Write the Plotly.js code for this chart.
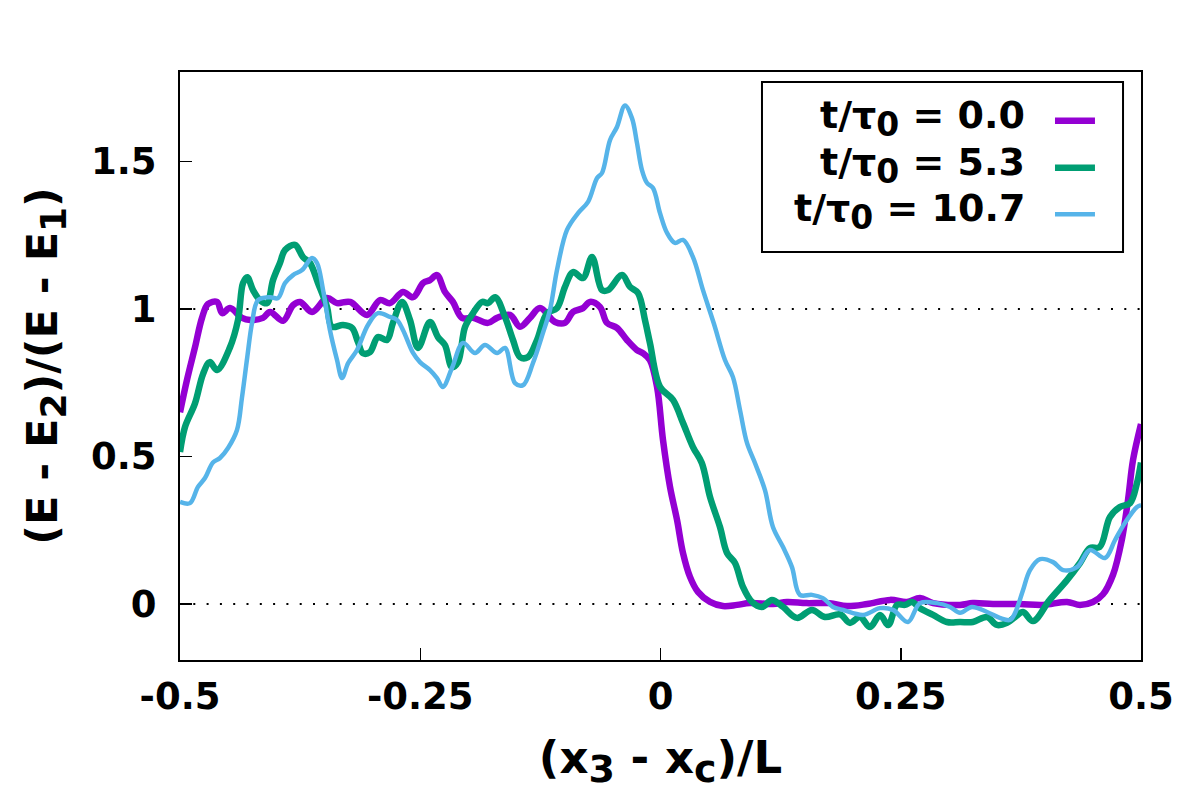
<!DOCTYPE html>
<html>
<head>
<meta charset="utf-8">
<script src="https://cdn.plot.ly/plotly-3.0.1.min.js"></script>
<style>
  html, body { margin: 0; padding: 0; background: #ffffff; }
  #chart { width: 1200px; height: 800px; }
</style>
</head>
<body>
<div id="chart"></div>
<script>
// t/tau0 = 0.0
const x00 = [-0.5, -0.4927, -0.4844, -0.4771, -0.4709, -0.4615, -0.456, -0.448, -0.4355, -0.427,
  -0.4136, -0.4063, -0.3928, -0.3824, -0.375, -0.3626, -0.347, -0.3366, -0.323, -0.3054,
  -0.2919, -0.2815, -0.268, -0.2575, -0.247, -0.2399, -0.2326, -0.2243, -0.216, -0.2066,
  -0.195, -0.1795, -0.170, -0.1566, -0.1462, -0.1358, -0.1254, -0.1098, -0.0994, -0.091,
  -0.0806, -0.0734, -0.063, -0.0557, -0.0453, -0.0349, -0.0245, -0.018, -0.011, -0.0036,
  0.0026, 0.0099, 0.0172, 0.0234, 0.0307, 0.039, 0.0515, 0.065, 0.0796, 0.093,
  0.117, 0.1316, 0.152, 0.176, 0.194, 0.215, 0.239, 0.2565, 0.27, 0.2836,
  0.3117, 0.325, 0.346, 0.374, 0.398, 0.423, 0.4365, 0.45, 0.4605, 0.471,
  0.48, 0.4865, 0.4917, 0.5];
const y00 = [0.65, 0.76, 0.87, 0.97, 1.017, 1.024, 0.986, 1.003, 0.97, 0.963,
  0.97, 0.99, 0.96, 1.013, 1.024, 0.99, 1.037, 1.02, 1.024, 0.98,
  1.03, 1.02, 1.058, 1.04, 1.088, 1.098, 1.115, 1.058, 1.024, 0.97,
  0.97, 0.953, 0.97, 0.98, 0.94, 0.97, 1.003, 0.956, 0.953, 0.99,
  1.003, 1.024, 1.007, 0.953, 0.936, 0.895, 0.861, 0.85, 0.827, 0.736,
  0.556, 0.397, 0.285, 0.173, 0.092, 0.041, 0.007, -0.007, -0.003, 0.003,
  0.0, 0.007, 0.003, 0.003, -0.007, 0.0, 0.014, 0.007, 0.02, 0.003,
  -0.003, 0.003, 0.0, 0.0, -0.003, 0.007, -0.003, 0.007, 0.033, 0.10,
  0.217, 0.353, 0.488, 0.61];

// t/tau0 = 5.3
const x53 = [-0.5, -0.4948, -0.4844, -0.476, -0.469, -0.4615, -0.448, -0.4396, -0.4344, -0.430,
  -0.424, -0.4168, -0.4095, -0.4032, -0.396, -0.3907, -0.3803, -0.372, -0.3647, -0.3564,
  -0.347, -0.342, -0.3304, -0.321, -0.3148, -0.3096, -0.3023, -0.294, -0.2846, -0.2784,
  -0.269, -0.2607, -0.2523, -0.2399, -0.2316, -0.2243, -0.217, -0.2107, -0.2034, -0.195,
  -0.1857, -0.1795, -0.172, -0.1618, -0.1535, -0.1462, -0.1379, -0.1285, -0.1181, -0.1077,
  -0.0994, -0.091, -0.0806, -0.0713, -0.0609, -0.0546, -0.04, -0.0317, -0.0234, -0.016,
  -0.011, -0.0005, 0.013, 0.0234, 0.0338, 0.043, 0.0515, 0.0619, 0.0692, 0.0775,
  0.0858, 0.0952, 0.1056, 0.116, 0.1275, 0.142, 0.1576, 0.171, 0.187, 0.197,
  0.2076, 0.218, 0.2284, 0.237, 0.2461, 0.2544, 0.2617, 0.27, 0.2836, 0.298,
  0.3117, 0.325, 0.3398, 0.350, 0.3606, 0.369, 0.3772, 0.3876, 0.405, 0.423,
  0.4365, 0.4469, 0.457, 0.4677, 0.478, 0.4886, 0.4958, 0.5];
const y53 = [0.515, 0.6, 0.68, 0.78, 0.82, 0.793, 0.87, 0.963, 1.088, 1.108,
  1.064, 1.03, 1.02, 1.098, 1.156, 1.2, 1.217, 1.176, 1.156, 1.088,
  1.007, 0.94, 0.946, 0.936, 0.888, 0.85, 0.854, 0.905, 0.895, 0.953,
  1.024, 0.963, 0.868, 0.956, 0.905, 0.878, 0.803, 0.82, 0.939, 0.986,
  1.024, 1.02, 1.04, 0.973, 0.895, 0.837, 0.837, 0.895, 0.986, 1.003,
  1.075, 1.125, 1.105, 1.176, 1.064, 1.064, 1.115, 1.075, 1.054, 0.96,
  0.885, 0.736, 0.692, 0.614, 0.532, 0.478, 0.363, 0.261, 0.173, 0.139,
  0.058, 0.007, -0.01, 0.014, -0.01, -0.047, -0.02, -0.044, -0.035, -0.064,
  -0.044, -0.078, -0.037, -0.071, -0.003, -0.003, 0.007, -0.014, -0.037, -0.061,
  -0.061, -0.061, -0.044, -0.071, -0.064, -0.044, -0.027, -0.058, 0.014, 0.081,
  0.139, 0.19, 0.193, 0.295, 0.329, 0.342, 0.41, 0.48];

// t/tau0 = 10.7
const x107 = [-0.5, -0.4896, -0.4813, -0.474, -0.4657, -0.4584, -0.45, -0.4407, -0.4355, -0.430,
  -0.425, -0.4188, -0.4063, -0.398, -0.3907, -0.3824, -0.373, -0.3626, -0.3574, -0.3511,
  -0.344, -0.3366, -0.3314, -0.325, -0.3158, -0.3044, -0.294, -0.2815, -0.2742, -0.268,
  -0.2575, -0.2503, -0.2399, -0.2326, -0.2264, -0.217, -0.2055, -0.193, -0.1826, -0.170,
  -0.1618, -0.1514, -0.143, -0.1327, -0.1223, -0.115, -0.1077, -0.0973, -0.0858, -0.0754,
  -0.066, -0.0609, -0.0525, -0.0453, -0.037, -0.0297, -0.0245, -0.0193, -0.014, -0.0078,
  -0.0005, 0.0068, 0.015, 0.0234, 0.0338, 0.0442, 0.0556, 0.0671, 0.0754, 0.0827,
  0.09, 0.0983, 0.1087, 0.117, 0.1275, 0.1368, 0.145, 0.1576, 0.169, 0.1795,
  0.190, 0.211, 0.2284, 0.2419, 0.2575, 0.27, 0.2877, 0.3013, 0.3117, 0.324,
  0.3398, 0.353, 0.3637, 0.369, 0.3772, 0.3845, 0.395, 0.4085, 0.419, 0.4334,
  0.4469, 0.4625, 0.473, 0.4833, 0.4958, 0.5];
const y107 = [0.346, 0.342, 0.397, 0.427, 0.48, 0.495, 0.529, 0.59, 0.70, 0.837,
  0.953, 1.03, 1.04, 1.037, 1.088, 1.115, 1.132, 1.173, 1.156, 1.064,
  0.929, 0.827, 0.766, 0.817, 0.861, 0.946, 0.986, 0.973, 0.963, 0.929,
  0.851, 0.82, 0.793, 0.766, 0.736, 0.80, 0.885, 0.851, 0.878, 0.851,
  0.868, 0.749, 0.742, 0.817, 0.919, 0.997, 1.132, 1.268, 1.325, 1.363,
  1.444, 1.461, 1.573, 1.617, 1.69, 1.647, 1.563, 1.471, 1.427, 1.41,
  1.325, 1.258, 1.224, 1.234, 1.176, 1.064, 0.95, 0.827, 0.769, 0.658,
  0.546, 0.478, 0.386, 0.261, 0.193, 0.125, 0.031, 0.031, 0.02, -0.01,
  -0.02, -0.037, -0.014, -0.02, -0.061, 0.003, 0.003, -0.01, -0.03, -0.01,
  -0.027, -0.047, -0.054, -0.03, 0.047, 0.115, 0.152, 0.142, 0.115, 0.125,
  0.183, 0.156, 0.217, 0.275, 0.329, 0.335];

const seriesLabels = ['0.0', '5.3', '10.7'];
const seriesColors = ['#9400d3', '#009e73', '#56b4e9'];
const seriesWidths = [6.5, 6.5, 4.5];

const xTicks = [-0.5, -0.25, 0, 0.25, 0.5];
const xTickText = ['-0.5', '-0.25', '0', '0.25', '0.5'];
const yTicks = [0, 0.5, 1, 1.5];
const yTickText = ['0', '0.5', '1', '1.5'];
const refLevels = [0, 1];

const fontFamily = '"DejaVu Sans", Verdana, sans-serif';
const sub = (s, px) => '<sub><span style="font-size:' + px + 'px">' + s + '</span></sub>';
const seriesX = [x00, x53, x107];
const seriesY = [y00, y53, y107];
const seriesNames = seriesLabels.map(v => 't/τ' + sub('0', 33) + ' = ' + v);

const traces = seriesX.map((xs, i) => ({
  x: xs,
  y: seriesY[i],
  type: 'scatter',
  mode: 'lines',
  name: 't/tau0 = ' + seriesLabels[i],
  line: { color: seriesColors[i], width: seriesWidths[i], shape: 'spline', smoothing: 1 },
  showlegend: false
}));

// dotted reference lines
const shapes = refLevels.map(v => ({
  type: 'line', xref: 'paper', yref: 'y', x0: 0, x1: 1, y0: v, y1: v,
  line: { color: '#000000', width: 2, dash: '2px,11.3px' }, layer: 'below'
}));

// gnuplot style key: box, right-aligned text, sample line on the right
const keyBox = { x0: 0.6056, x1: 0.9813, y0: 0.6939, y1: 0.983 };
const keyRows = [0.921, 0.841, 0.762];
shapes.push({
  type: 'rect', xref: 'paper', yref: 'paper',
  x0: keyBox.x0, x1: keyBox.x1, y0: keyBox.y0, y1: keyBox.y1,
  fillcolor: '#ffffff', line: { color: '#000000', width: 2 }, layer: 'above'
});
const annotations = [];
keyRows.forEach((ry, i) => {
  shapes.push({
    type: 'line', xref: 'paper', yref: 'paper', x0: 0.9105, x1: 0.9521, y0: ry - 0.004, y1: ry - 0.004,
    line: { color: seriesColors[i], width: seriesWidths[i] }, layer: 'above'
  });
  annotations.push({
    xref: 'paper', yref: 'paper', x: 0.8814, y: ry, xanchor: 'right', yanchor: 'middle',
    text: seriesNames[i], showarrow: false,
    font: { family: fontFamily, size: 38, color: '#000000', weight: 'bold' }
  });
});

const tickFont = { family: fontFamily, size: 37, color: '#000000', weight: 'bold' };

const layout = {
  width: 1200,
  height: 800,
  margin: { l: 180, r: 59, t: 72, b: 140 },
  paper_bgcolor: '#ffffff',
  plot_bgcolor: '#ffffff',
  showlegend: false,
  font: { family: fontFamily, size: 36, color: '#000000', weight: 'bold' },
  xaxis: {
    range: [-0.5, 0.5],
    tickvals: xTicks,
    ticktext: xTickText,
    ticks: 'inside',
    ticklen: 12,
    tickwidth: 1.5,
    tickcolor: '#000000',
    ticklabelstandoff: 3,
    showgrid: false,
    zeroline: false,
    showline: true,
    linecolor: '#000000',
    linewidth: 2,
    mirror: true,
    tickfont: tickFont,
    title: {
      text: '(x' + sub('3', 38) + ' - x' + sub('c', 38) + ')/L',
      standoff: 24,
      font: { family: fontFamily, size: 45, color: '#000000', weight: 'bold' }
    }
  },
  yaxis: {
    range: [-0.1898, 1.8034],
    tickvals: yTicks,
    ticktext: yTickText,
    ticks: 'inside',
    ticklen: 12,
    tickwidth: 1.5,
    tickcolor: '#000000',
    ticklabelstandoff: 14,
    showgrid: false,
    zeroline: false,
    showline: true,
    linecolor: '#000000',
    linewidth: 2,
    mirror: true,
    tickfont: tickFont,
    title: {
      text: '(E - E' + sub('2', 36) + ')/(E - E' + sub('1', 36) + ')',
      standoff: 20,
      font: { family: fontFamily, size: 43, color: '#000000', weight: 'bold' }
    }
  },
  shapes: shapes,
  annotations: annotations
};

Plotly.newPlot('chart', traces, layout, { displayModeBar: false, staticPlot: true });
</script>
</body>
</html>
